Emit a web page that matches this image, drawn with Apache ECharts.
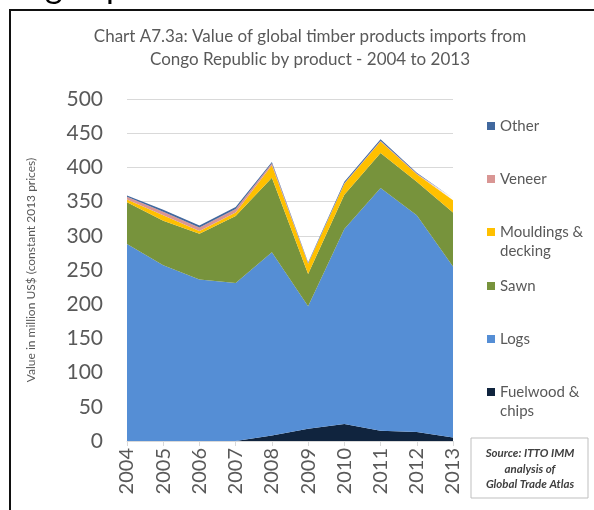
<!DOCTYPE html>
<html>
<head>
<meta charset="utf-8">
<script src="https://cdn.jsdelivr.net/npm/echarts@6/dist/echarts.min.js"></script>
<style>
  html, body { margin: 0; padding: 0; background: #fff; }
  #chart { width: 594px; height: 510px; }
</style>
</head>
<body>
<div id="chart"></div>
<script>
// Congo Republic timber imports by product, stacked area
var years = ['2004', '2005', '2006', '2007', '2008', '2009', '2010', '2011', '2012', '2013'];
var fuelwood = [0, 0, 0, 0, 8, 18, 25, 15, 13, 5];
var logs = [288, 257, 236, 231, 268, 179, 285, 355, 317, 250];
var sawn = [61, 65, 67, 98, 109, 47, 50, 51, 49, 79];
var mouldings = [4, 8, 4, 5, 18, 15, 16, 17, 11, 18];
var veneer = [4, 5, 5, 5, 3, 1, 1, 1, 1, 1];
var other = [2, 3, 3, 3, 2, 1, 2, 2, 1, 2];

var FONT = 'Lato, "Open Sans", sans-serif';
var GREY = '#595959';

var seriesDefs = [
    { name: 'Fuelwood & chips', data: fuelwood, color: '#10243E' },
    { name: 'Logs', data: logs, color: '#558ED5' },
    { name: 'Sawn', data: sawn, color: '#77933C' },
    { name: 'Mouldings & decking', data: mouldings, color: '#FFC000' },
    { name: 'Veneer', data: veneer, color: '#D99694' },
    { name: 'Other', data: other, color: '#41689E' }
];

// legend rows top-to-bottom, first line only (second lines added as graphic text)
var legendRows = [
    { name: 'Other', label: 'Other', y: 126 },
    { name: 'Veneer', label: 'Veneer', y: 179 },
    { name: 'Mouldings & decking', label: 'Mouldings &', y: 232 },
    { name: 'Sawn', label: 'Sawn', y: 286 },
    { name: 'Logs', label: 'Logs', y: 339 },
    { name: 'Fuelwood & chips', label: 'Fuelwood &', y: 392 }
];

var series = [];
for (var i = 0; i < seriesDefs.length; i++) {
    var d = seriesDefs[i];
    series.push({
        name: d.name,
        type: 'line',
        stack: 'total',
        data: d.data,
        symbol: 'none',
        color: d.color,
        lineStyle: { width: 0 },
        areaStyle: { color: d.color, opacity: 1 },
        emphasis: { disabled: true },
        silent: true
    });
}

var legends = [];
for (var j = 0; j < legendRows.length; j++) {
    (function (row) {
        legends.push({
            data: [row.name],
            left: 487,
            top: row.y - 9,
            padding: 0,
            icon: 'rect',
            itemWidth: 8,
            itemHeight: 8,
            selectedMode: false,
            textStyle: { fontFamily: FONT, fontSize: 15, color: GREY, lineHeight: 18 },
            formatter: function () { return row.label; }
        });
    })(legendRows[j]);
}

var chart = echarts.init(document.getElementById('chart'), null, { renderer: 'canvas' });
chart.setOption({
    animation: false,
    backgroundColor: '#fff',
    title: {
        text: 'Chart A7.3a: Value of global timber products imports from\nCongo Republic by product - 2004 to 2013',
        left: 305,
        top: 20,
        textAlign: 'center',
        textStyle: { fontFamily: FONT, fontSize: 17, fontWeight: 'normal', color: GREY, lineHeight: 23 }
    },
    legend: legends,
    grid: { left: 127, right: 141, top: 99, bottom: 69 },
    xAxis: {
        type: 'category',
        data: years,
        boundaryGap: false,
        axisLine: { lineStyle: { color: '#D9D9D9', width: 1 } },
        axisTick: { show: true, length: 5, lineStyle: { color: '#D9D9D9' } },
        axisLabel: { rotate: 90, fontFamily: FONT, fontSize: 20, color: GREY, margin: 7 }
    },
    yAxis: {
        type: 'value',
        min: 0,
        max: 500,
        interval: 50,
        name: 'Value in million US$ (constant 2013 prices)',
        nameLocation: 'middle',
        nameGap: 90,
        nameTextStyle: { fontFamily: FONT, fontSize: 12, color: GREY },
        axisLine: { show: false },
        axisTick: { show: false },
        splitLine: { lineStyle: { color: '#D9D9D9', width: 1 } },
        axisLabel: { fontFamily: FONT, fontSize: 21, color: GREY, margin: 24 }
    },
    series: series,
    graphic: [
        // clipped page heading above the chart frame
        { type: 'text', left: 45, top: -30, silent: true,
          style: { text: 'g exp', font: '34px ' + FONT, fill: '#000' } },
        // chart frame (left and top edges visible)
        { type: 'polyline', silent: true,
          shape: { points: [[10, 510], [10, 10], [594, 10]] },
          style: { stroke: '#111', lineWidth: 2, fill: null } },
        // second legend lines
        { type: 'text', left: 500, top: 244, silent: true,
          style: { text: 'decking', font: '15px ' + FONT, fill: GREY } },
        { type: 'text', left: 500, top: 404, silent: true,
          style: { text: 'chips', font: '15px ' + FONT, fill: GREY } },
        // source box
        { type: 'rect', silent: true,
          shape: { x: 471, y: 438, width: 117, height: 60 },
          style: { fill: '#fff', stroke: '#BFBFBF', lineWidth: 1 } },
        { type: 'text', x: 530, y: 453, silent: true,
          style: { text: 'Source: ITTO IMM', font: 'italic bold 11.5px ' + FONT, fill: '#404040',
                   align: 'center', verticalAlign: 'middle' } },
        { type: 'text', x: 530, y: 469, silent: true,
          style: { text: 'analysis of', font: 'italic bold 11.5px ' + FONT, fill: '#404040',
                   align: 'center', verticalAlign: 'middle' } },
        { type: 'text', x: 530, y: 484, silent: true,
          style: { text: 'Global Trade Atlas', font: 'italic bold 11.5px ' + FONT, fill: '#404040',
                   align: 'center', verticalAlign: 'middle' } }
    ]
});
</script>
</body>
</html>
